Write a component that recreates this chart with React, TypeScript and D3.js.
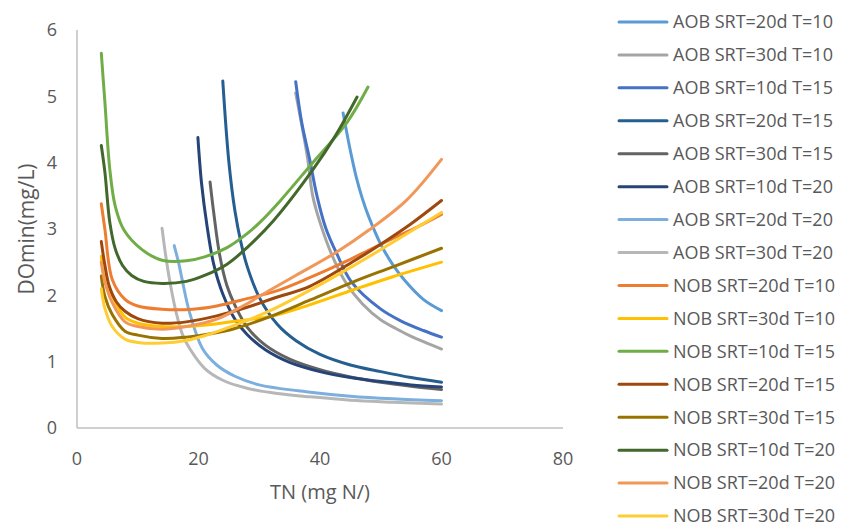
import * as d3 from "d3";

const width = 845;
const height = 526;

// TN (mg N/L) vs DOmin (mg/L)
const aob20T10 = [[43.8, 4.75], [45, 4.18], [46, 3.77], [47, 3.45], [48, 3.19], [50, 2.77], [52, 2.46], [54, 2.22], [57, 1.94], [60, 1.77]];
const aob30T10 = [[36, 5.05], [37.9, 4.1], [38.8, 3.5], [40, 3.1], [42, 2.6], [44.4, 2.17], [47, 1.87], [50, 1.63], [52.5, 1.5], [55, 1.38], [60, 1.19]];
const aob10T15 = [[36, 5.22], [37, 4.6], [38.3, 4.05], [39.5, 3.5], [41, 3.0], [42.8, 2.62], [45.2, 2.2], [49.9, 1.8], [53.2, 1.62], [57, 1.47], [60, 1.37]];
const aob20T15 = [[24, 5.23], [25, 4.01], [26, 3.27], [27, 2.79], [28, 2.44], [30, 1.97], [33, 1.56], [36, 1.32], [40, 1.11], [45, 0.95], [50, 0.85], [55, 0.76], [60, 0.69]];
const aob30T15 = [[21.9, 3.71], [22.5, 3.25], [23.5, 2.6], [24.7, 2.14], [26, 1.85], [28, 1.52], [31, 1.25], [35, 1.04], [40, 0.88], [45, 0.77], [50, 0.69], [55, 0.63], [60, 0.58]];
const aob10T20 = [[19.9, 4.38], [20.5, 3.69], [21.4, 3.05], [22.5, 2.47], [24, 2.02], [26, 1.64], [28, 1.41], [31, 1.18], [35, 0.99], [40, 0.85], [45, 0.76], [50, 0.7], [55, 0.65], [60, 0.62]];
const aob20T20 = [[16, 2.75], [16.7, 2.5], [17.3, 2.24], [18.5, 1.75], [20.7, 1.19], [23, 0.95], [26, 0.78], [30, 0.65], [38.4, 0.54], [45, 0.48], [52, 0.44], [60, 0.41]];
const aob30T20 = [[14, 3.01], [14.6, 2.6], [15.3, 2.2], [16.3, 1.75], [17.4, 1.4], [18.6, 1.19], [21, 0.9], [24, 0.72], [28, 0.6], [33, 0.52], [38.4, 0.47], [45, 0.42], [52, 0.39], [60, 0.36]];
const nob20T10 = [[4, 3.38], [4.6, 2.99], [5.8, 2.24], [7.9, 1.94], [10, 1.84], [14, 1.79], [19, 1.79], [23, 1.84], [28, 1.95], [33, 2.07], [38.4, 2.27], [44, 2.5], [48, 2.68], [52, 2.86], [56, 3.03], [60, 3.22]];
const nob30T10 = [[4, 2.59], [4.6, 2.25], [5.8, 1.99], [7.9, 1.67], [10, 1.58], [14, 1.53], [18, 1.53], [22, 1.56], [26, 1.61], [31.8, 1.68], [38.4, 1.86], [45.4, 2.08], [52, 2.28], [60, 2.5]];
const nob10T15 = [[4, 5.65], [4.6, 4.9], [5.4, 3.9], [6.3, 3.34], [7.7, 2.99], [10.7, 2.69], [14, 2.53], [18, 2.52], [21, 2.58], [24.7, 2.72], [28, 2.93], [30.1, 3.1], [33.4, 3.42], [38.8, 4.0], [44.4, 4.6], [47.9, 5.14]];
const nob20T15 = [[4, 2.81], [4.6, 2.45], [5.3, 2.14], [6.5, 1.9], [7.9, 1.76], [10, 1.65], [14, 1.58], [18, 1.6], [23, 1.69], [28, 1.82], [32.5, 1.96], [38.4, 2.14], [46, 2.54], [50, 2.77], [55, 3.08], [60, 3.43]];
const nob30T15 = [[4, 2.29], [4.6, 1.98], [5.8, 1.71], [7.9, 1.46], [10, 1.4], [14, 1.35], [18, 1.37], [22, 1.42], [26, 1.5], [31.8, 1.68], [38.4, 1.93], [45.4, 2.2], [52, 2.43], [60, 2.71]];
const nob10T20 = [[4, 4.26], [4.6, 3.85], [5.4, 3.1], [6.3, 2.7], [7.5, 2.45], [9, 2.3], [11, 2.21], [14, 2.18], [18, 2.21], [21, 2.3], [24.7, 2.47], [28, 2.72], [32.3, 3.12], [38.8, 3.89], [42.5, 4.4], [46.1, 4.99]];
const nob20T20 = [[4, 2.5], [4.6, 2.2], [5.8, 1.89], [7.9, 1.6], [10, 1.53], [14, 1.49], [18, 1.53], [23, 1.64], [27.5, 1.85], [31.8, 2.08], [36, 2.3], [42.7, 2.65], [48, 2.98], [54.3, 3.44], [60, 4.05]];
const nob30T20 = [[4, 2.1], [4.6, 1.8], [5.8, 1.53], [7.9, 1.34], [10, 1.29], [14, 1.28], [18, 1.32], [22, 1.42], [26, 1.55], [31.8, 1.77], [38.4, 2.08], [45.4, 2.44], [52, 2.8], [60, 3.25]];

const seriesNames = [
  "AOB SRT=20d T=10", "AOB SRT=30d T=10", "AOB SRT=10d T=15", "AOB SRT=20d T=15",
  "AOB SRT=30d T=15", "AOB SRT=10d T=20", "AOB SRT=20d T=20", "AOB SRT=30d T=20",
  "NOB SRT=20d T=10", "NOB SRT=30d T=10", "NOB SRT=10d T=15", "NOB SRT=20d T=15",
  "NOB SRT=30d T=15", "NOB SRT=10d T=20", "NOB SRT=20d T=20", "NOB SRT=30d T=20",
];
const seriesData = [
  aob20T10, aob30T10, aob10T15, aob20T15, aob30T15, aob10T20, aob20T20, aob30T20,
  nob20T10, nob30T10, nob10T15, nob20T15, nob30T15, nob10T20, nob20T20, nob30T20,
];
const seriesColors = [
  "#5B9BD5", "#A5A5A5", "#4472C4", "#255E91", "#636363", "#264478", "#7CAFDD", "#B7B7B7",
  "#ED7D31", "#FFC000", "#70AD47", "#9E480E", "#997300", "#43682B", "#F1975A", "#FFCD33",
];

const xTicks = [0, 20, 40, 60, 80];
const yTicks = [0, 1, 2, 3, 4, 5, 6];

const font = "'Open Sans', sans-serif";
const textColor = "#595959";

export default function App() {
  const x = d3.scaleLinear().domain([0, 80]).range([77, 563]);
  const y = d3.scaleLinear().domain([0, 6]).range([428, 30]);

  const line = d3
    .line<number[]>()
    .x((d) => x(d[0]))
    .y((d) => y(d[1]))
    .curve(d3.curveCatmullRom.alpha(0.5));

  const legendY = d3.scaleLinear().domain([0, 15]).range([22, 516]);

  return (
    <svg
      width={width}
      height={height}
      style={{ position: "absolute", left: 0, top: 0, background: "#fff" }}
      fontFamily={font}
    >
      {/* axes */}
      <line x1={x(0)} x2={x(0)} y1={y(0)} y2={y(6)} stroke="#BFBFBF" strokeWidth={1.5} />
      <line x1={x(0)} x2={x(80)} y1={y(0)} y2={y(0)} stroke="#BFBFBF" strokeWidth={1.5} />

      {yTicks.map((t) => (
        <text key={t} x={57} y={y(t)} dy="0.35em" textAnchor="end" fontSize={18} fill={textColor}>
          {t}
        </text>
      ))}
      {xTicks.map((t) => (
        <text key={t} x={x(t)} y={465} textAnchor="middle" fontSize={18} fill={textColor}>
          {t}
        </text>
      ))}

      <text
        transform={`translate(34, ${(y(0) + y(6)) / 2}) rotate(-90)`}
        textAnchor="middle"
        fontSize={21}
        fill={textColor}
      >
        DOmin(mg/L)
      </text>
      <text x={320} y={499} textAnchor="middle" fontSize={20} fill={textColor}>
        TN (mg N/)
      </text>

      {/* series */}
      {seriesData.map((d, i) => (
        <path
          key={seriesNames[i]}
          d={line(d) || ""}
          fill="none"
          stroke={seriesColors[i]}
          strokeWidth={3}
          strokeLinecap="round"
          strokeLinejoin="round"
        />
      ))}

      {/* legend */}
      {seriesNames.map((name, i) => (
        <g key={name} transform={`translate(0, ${legendY(i)})`}>
          <line x1={619} x2={667} y1={0} y2={0} stroke={seriesColors[i]} strokeWidth={3} strokeLinecap="round" />
          <text x={673} y={0} dy="0.35em" fontSize={18} fill={textColor}>
            {name}
          </text>
        </g>
      ))}
    </svg>
  );
}
